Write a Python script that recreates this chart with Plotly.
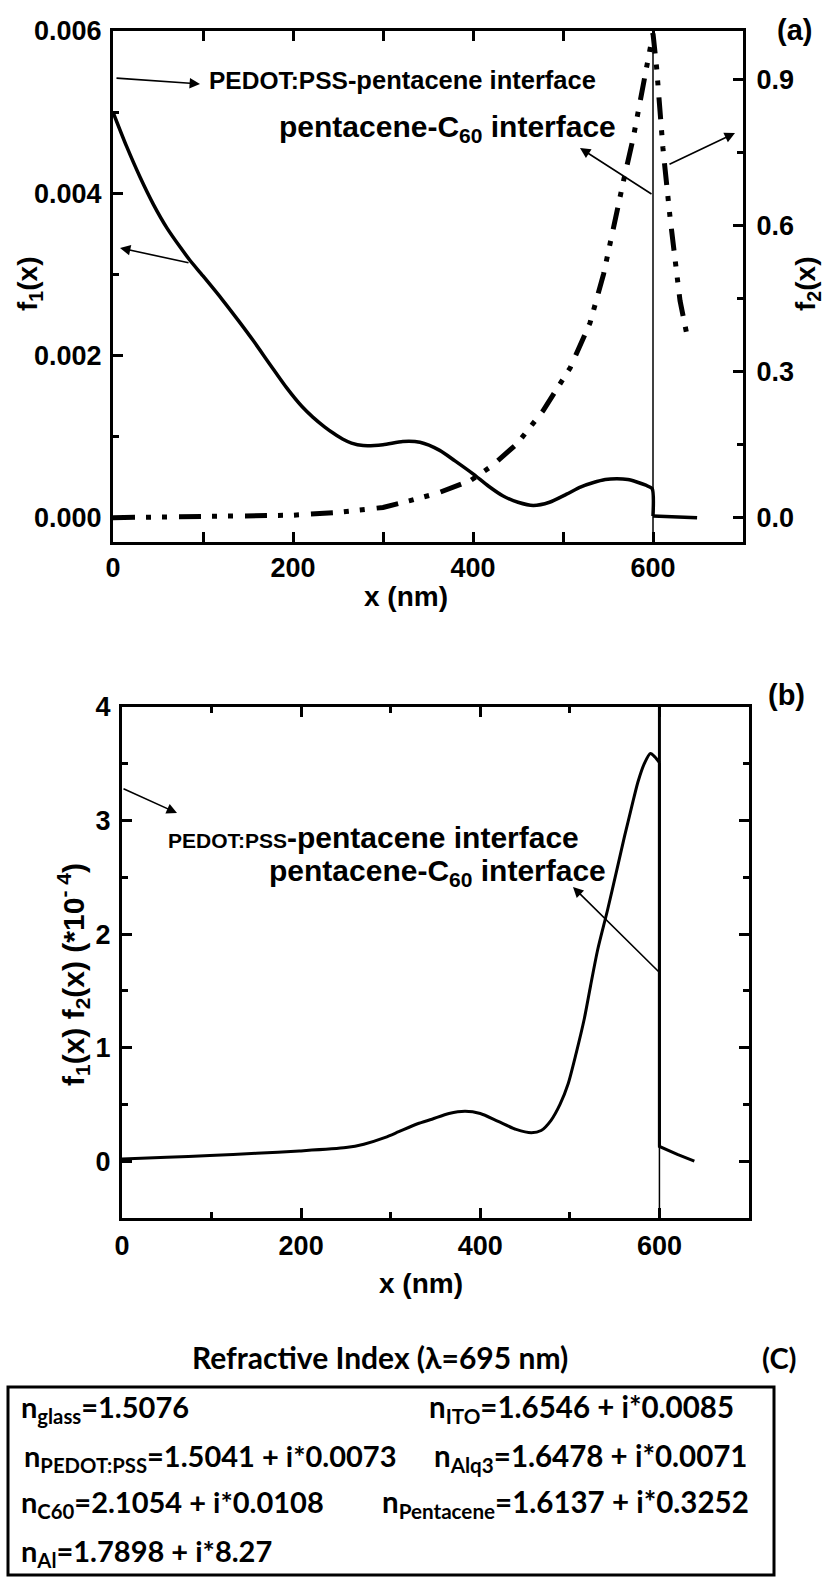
import plotly.graph_objects as go

W, H = 831, 1577

# ---------------- data ----------------
# panel (a): f1(x) (left axis) and f2(x) (right axis)
xa_f1 = [0, 15, 30, 45, 60, 75, 85, 100, 122, 140, 156, 175, 193, 210, 222, 235, 245, 255, 265, 278,
         300, 322, 341, 363, 380, 400, 417, 433, 450, 467, 485, 504, 520, 533, 547, 560, 572, 582, 592,
         599, 600, 620, 649]
f1 = [0.0050, 0.00458, 0.00420, 0.00386, 0.00357, 0.00333, 0.00318, 0.00298, 0.00268, 0.00242, 0.00218,
      0.00188, 0.00160, 0.00137, 0.00124, 0.00112, 0.00104, 0.00097, 0.00092, 0.00089, 0.00090, 0.00094,
      0.00093, 0.00083, 0.00070, 0.00054, 0.00039, 0.00027, 0.00019, 0.00015, 0.00019, 0.00029, 0.00038,
      0.00043, 0.00047, 0.00048, 0.00047, 0.00044, 0.00040, 0.00036, 0.00002, 0.00001, 0.0]

xa_f2 = [0, 50, 100, 150, 200, 250, 300, 330, 360, 397, 420, 449, 478, 508, 530, 545, 556, 567, 578, 586,
         593, 600, 604, 611, 619, 630, 639]
f2 = [0.0, 0.001, 0.002, 0.003, 0.005, 0.011, 0.021, 0.035, 0.050, 0.076, 0.105, 0.152, 0.22, 0.308,
      0.40, 0.50, 0.60, 0.69, 0.78, 0.86, 0.925, 0.995, 0.925, 0.76, 0.616, 0.446, 0.364]

# panel (b): f1(x)*f2(x) in units of 1e-4
xb = [0, 50, 98, 150, 198, 250, 270, 294, 309, 330, 346, 365, 383, 400, 420, 440, 457, 468, 479, 489,
      498, 507, 516, 523, 531, 542, 552, 561, 569, 576, 583, 590, 595, 600, 600, 620, 639]
fb = [0.02, 0.035, 0.05, 0.07, 0.09, 0.12, 0.15, 0.21, 0.26, 0.33, 0.37, 0.42, 0.44, 0.42, 0.35, 0.28,
      0.25, 0.27, 0.36, 0.50, 0.68, 0.95, 1.25, 1.54, 1.86, 2.21, 2.55, 2.86, 3.12, 3.34, 3.50, 3.59,
      3.56, 3.51, 0.13, 0.06, 0.0]

interface_x = 600

# panel (c): refractive indices
ri_title = "Refractive Index (λ=695 nm)"
ri_left = ["n<sub>glass</sub>=1.5076",
           "n<sub>PEDOT:PSS</sub>=1.5041 + i*0.0073",
           "n<sub>C60</sub>=2.1054 + i*0.0108",
           "n<sub>Al</sub>=1.7898 + i*8.27"]
ri_right = ["n<sub>ITO</sub>=1.6546 + i*0.0085",
            "n<sub>Alq3</sub>=1.6478 + i*0.0071",
            "n<sub>Pentacene</sub>=1.6137 + i*0.3252"]

# ---------------- helpers ----------------
def px(x):
    return x / W


def py(y):
    return 1 - y / H


ARIAL = "Liberation Sans, Arial, sans-serif"
CAL = "Lato, Open Sans, sans-serif"

annotations = []


def txt(text, x, y, size, xanchor="left", family=ARIAL, bold=True, angle=0):
    annotations.append(dict(
        text=text, x=px(x), y=py(y), xref="paper", yref="paper",
        xanchor=xanchor, yanchor="middle", showarrow=False, textangle=angle,
        font=dict(family=family, size=size, color="black", weight="bold" if bold else "normal")))


def arrow(hx, hy, tx, ty):
    annotations.append(dict(
        text="", x=px(hx), y=py(hy), xref="paper", yref="paper",
        ax=tx - hx, ay=ty - hy, axref="pixel", ayref="pixel",
        showarrow=True, arrowhead=2, arrowsize=1.3, arrowwidth=1.6, arrowcolor="black"))


def split_at_drop(xs, ys):
    # index of the first point at the interface (start of the vertical drop)
    i = xs.index(interface_x)
    return (xs[:i + 1], ys[:i + 1]), (xs[i:], ys[i:])


fig = go.Figure()

(a1x, a1y), (a2x, a2y) = split_at_drop(xa_f1, f1)
fig.add_trace(go.Scatter(x=a1x, y=a1y, mode="lines", xaxis="x", yaxis="y", line_shape="spline",
                         line=dict(color="black", width=3.5, smoothing=0.7)))
fig.add_trace(go.Scatter(x=a2x, y=a2y, mode="lines", xaxis="x", yaxis="y",
                         line=dict(color="black", width=3.5)))
fig.add_trace(go.Scatter(x=xa_f2, y=f2, mode="lines", xaxis="x", yaxis="y2",
                         line=dict(color="black", width=5, dash="22px,11px,5px,11px,5px,12px")))
(b1x, b1y), (b2x, b2y) = split_at_drop(xb, fb)
fig.add_trace(go.Scatter(x=b1x, y=b1y, mode="lines", xaxis="x2", yaxis="y3", line_shape="spline",
                         line=dict(color="black", width=3, smoothing=0.7)))
fig.add_trace(go.Scatter(x=b2x, y=b2y, mode="lines", xaxis="x2", yaxis="y3",
                         line=dict(color="black", width=3)))

tickfont = dict(family=ARIAL, size=27, color="black", weight="bold")
common = dict(showgrid=False, zeroline=False, showline=True, linewidth=3, linecolor="black",
              ticks="inside", ticklen=10, tickwidth=3, tickcolor="black", tickfont=tickfont,
              automargin=False)


def minor(d):
    return dict(dtick=d, ticks="inside", ticklen=6, tickwidth=3, tickcolor="black", showgrid=False)


ya_dom = [py(542), py(31)]
yb_dom = [py(1218), py(707)]

fig.update_layout(
    template="none",
    width=W, height=H, margin=dict(l=0, r=0, t=0, b=0, pad=0),
    paper_bgcolor="white", plot_bgcolor="white", showlegend=False,
    xaxis=dict(domain=[px(113), px(743)], range=[0, 700], anchor="y", tick0=0, dtick=200,
               mirror="allticks", ticklabelstandoff=0, minor=minor(100), **common),
    yaxis=dict(domain=ya_dom, range=[-0.0003, 0.006], anchor="x", tick0=0, dtick=0.002,
               tickformat=".3f", ticklabelstandoff=3, minor=minor(0.001), **common),
    yaxis2=dict(overlaying="y", side="right", anchor="x", range=[-0.05, 1.0], tick0=0, dtick=0.3,
                tickformat=".1f", ticklabelstandoff=5, minor=minor(0.15), **common),
    xaxis2=dict(domain=[px(122), px(749)], range=[0, 700], anchor="y3", tick0=0, dtick=200,
                mirror="allticks", ticklabelstandoff=2, minor=minor(100), **common),
    yaxis3=dict(domain=yb_dom, range=[-0.5, 4], anchor="x2", tick0=0, dtick=1,
                mirror="allticks", ticklabelstandoff=3, minor=minor(0.5), **common),
)

shapes = [
    dict(type="line", xref="x", yref="y", x0=interface_x, x1=interface_x, y0=-0.0003, y1=0.006,
         line=dict(color="black", width=1.5)),
    dict(type="line", xref="x2", yref="y3", x0=interface_x, x1=interface_x, y0=-0.5, y1=0.13,
         line=dict(color="black", width=1.5)),
    dict(type="line", xref="x2", yref="y3", x0=interface_x, x1=interface_x, y0=0.13, y1=4,
         line=dict(color="black", width=3)),
    dict(type="rect", xref="paper", yref="paper", x0=px(8), x1=px(774), y0=py(1575), y1=py(1387),
         line=dict(color="black", width=3)),
]

# ----- panel (a) texts -----
txt("f<sub>1</sub>(x)", 30, 284, 28, xanchor="center", angle=-90)
txt("f<sub>2</sub>(x)", 808, 284, 28, xanchor="center", angle=-90)
txt("x (nm)", 406, 597, 28, xanchor="center")
txt("(a)", 794, 30, 29, xanchor="center")
txt('<span style="font-size:24.5px">PEDOT:PSS</span>-pentacene interface', 207, 80, 25.5)
txt("pentacene-C<sub>60</sub> interface", 277, 128, 30)
arrow(200, 84, 115, 78)
arrow(120, 248, 190, 263)
arrow(580, 148, 653, 195)
arrow(735, 133, 668, 165)

# ----- panel (b) texts -----
txt("f<sub>1</sub>(x) f<sub>2</sub>(x) (*10<sup>- 4</sup>)", 73, 975, 30, xanchor="center", angle=-90)
txt("x (nm)", 421, 1283, 28, xanchor="center")
txt("(b)", 786, 695, 29, xanchor="center")
txt('<span style="font-size:21px">PEDOT:PSS</span>-pentacene interface', 166, 837, 30)
txt("pentacene-C<sub>60</sub> interface", 267, 872, 30)
arrow(177, 813, 122, 788)
arrow(573, 887, 660, 973)

# ----- panel (c) -----
txt(ri_title, 380, 1357, 30, xanchor="center", family=CAL)
txt("(C)", 779, 1357, 29, xanchor="center", family=CAL)
left_x = [19, 22, 19, 19]
row_y = [1408, 1457, 1503, 1552]
for t, xx, yy in zip(ri_left, left_x, row_y):
    txt(t, xx, yy, 29, family=CAL)
right_x = [427, 432, 380]
for t, xx, yy in zip(ri_right, right_x, row_y):
    txt(t, xx, yy, 29.5, family=CAL)

fig.update_layout(annotations=annotations, shapes=shapes)
fig.write_html("out.html")
